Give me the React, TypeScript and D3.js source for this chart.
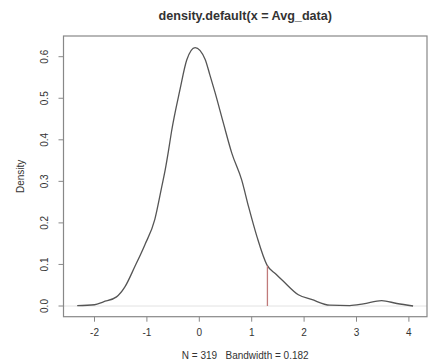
import * as d3 from "d3";

// ── Data — kernel density estimate ────────────────────────────
const DENS_X = [
  -2.33, -2.0, -1.83, -1.58, -1.42, -1.23, -1.04, -0.85, -0.72, -0.65, -0.59,
  -0.53, -0.37, -0.24, -0.08, 0.11, 0.2, 0.3, 0.46, 0.62, 0.81, 0.94, 1.1,
  1.29, 1.46, 1.6, 1.89, 2.14, 2.49, 2.87, 3.13, 3.48, 3.77, 4.08,
];
const DENS_Y = [
  0.001, 0.003, 0.01, 0.022, 0.046, 0.095, 0.147, 0.208, 0.285, 0.328, 0.372,
  0.42, 0.52, 0.592, 0.622, 0.594, 0.557, 0.514, 0.44, 0.368, 0.303, 0.239,
  0.167, 0.099, 0.077, 0.06, 0.027, 0.016, 0.002, 0.001, 0.005, 0.013, 0.006,
  0.0,
];
const X_TICKS = [-2, -1, 0, 1, 2, 3, 4];
const Y_TICKS = [0, 0.1, 0.2, 0.3, 0.4, 0.5, 0.6];
const MARK_X = 1.3;
const MARK_Y = 0.097;

const TITLE = "density.default(x = Avg_data)";
const SUB = "N = 319   Bandwidth = 0.182";

// ── Geometry ──────────────────────────────────────────────────
const W = 431;
const H = 360;
const BOX = { left: 63.5, right: 427, top: 36, bottom: 316.7 };
const FONT = "'Liberation Sans', Arial, Helvetica, sans-serif";
const INK = "#333";

export default function App() {
  const x = d3.scaleLinear().domain([0, 1]).range([199.3, 251.7]);
  const y = d3.scaleLinear().domain([0, 0.6]).range([306, 56.7]);

  const pts: [number, number][] = DENS_X.map((v, i) => [v, DENS_Y[i]]);
  const line = d3
    .line<[number, number]>()
    .x((d) => x(d[0]))
    .y((d) => y(d[1]))
    .curve(d3.curveMonotoneX);

  const cx = (BOX.left + BOX.right) / 2;
  const cy = (BOX.top + BOX.bottom) / 2;

  return (
    <svg
      width={W}
      height={H}
      style={{ position: "absolute", left: 0, top: 0, background: "#fff" }}
      fontFamily={FONT}
    >
      {/* zero line */}
      <line x1={BOX.left} x2={BOX.right} y1={y(0)} y2={y(0)} stroke="#e2e2e2" strokeWidth={1} />

      {/* density curve */}
      <path d={line(pts) ?? ""} fill="none" stroke="#555" strokeWidth={1.3} />

      {/* marker */}
      <line x1={x(MARK_X)} x2={x(MARK_X)} y1={y(0)} y2={y(MARK_Y)} stroke="#c07a7a" strokeWidth={1.3} />

      {/* box */}
      <rect
        x={BOX.left}
        y={BOX.top}
        width={BOX.right - BOX.left}
        height={BOX.bottom - BOX.top}
        fill="none"
        stroke="#888"
        strokeWidth={1.2}
      />

      {/* x axis */}
      {X_TICKS.map((t) => (
        <g key={`x${t}`}>
          <line x1={x(t)} x2={x(t)} y1={BOX.bottom} y2={BOX.bottom + 5} stroke="#888" strokeWidth={1} />
          <text x={x(t)} y={336} textAnchor="middle" fontSize={10} fill={INK}>
            {t < 0 ? `-${Math.abs(t)}` : t}
          </text>
        </g>
      ))}

      {/* y axis */}
      {Y_TICKS.map((t) => (
        <g key={`y${t}`}>
          <line x1={BOX.left - 5} x2={BOX.left} y1={y(t)} y2={y(t)} stroke="#888" strokeWidth={1} />
          <text
            transform={`translate(47.5,${y(t)}) rotate(-90)`}
            textAnchor="middle"
            fontSize={10}
            fill={INK}
          >
            {t.toFixed(1)}
          </text>
        </g>
      ))}

      {/* labels */}
      <text x={cx} y={19.5} textAnchor="middle" fontSize={12.6} fontWeight="bold" fill={INK}>
        {TITLE}
      </text>
      <text x={cx} y={359} textAnchor="middle" fontSize={10} fill={INK} style={{ whiteSpace: "pre" }}>
        {SUB}
      </text>
      <text
        transform={`translate(24,${cy}) rotate(-90)`}
        textAnchor="middle"
        fontSize={10}
        fill={INK}
      >
        Density
      </text>
    </svg>
  );
}
